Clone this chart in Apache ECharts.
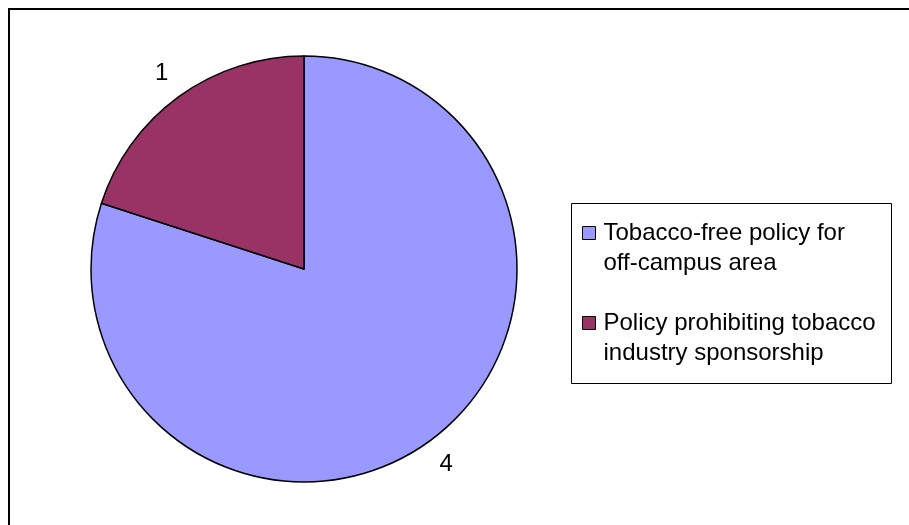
<!DOCTYPE html>
<html>
<head>
<meta charset="utf-8">
<script src="https://cdn.jsdelivr.net/npm/echarts@6/dist/echarts.min.js"></script>
<style>
  html, body { margin: 0; padding: 0; background: #fff; }
  #chart { width: 909px; height: 525px; }
</style>
</head>
<body>
<div id="chart"></div>
<script>
// Policy categories and their counts
const categories = [
  'Tobacco-free policy for off-campus area',
  'Policy prohibiting tobacco industry sponsorship'
];
const legendLines = [
  ['Tobacco-free policy for', 'off-campus area'],
  ['Policy prohibiting tobacco', 'industry sponsorship']
];
const counts = [4, 1];
const sliceColors = ['#9999FF', '#993366'];

const chart = echarts.init(document.getElementById('chart'), null, { renderer: 'canvas' });

const fontFamily = '"Liberation Sans", Arial, sans-serif';

chart.setOption({
  backgroundColor: '#ffffff',
  animation: false,
  graphic: [
    {
      // outer chart frame
      type: 'rect',
      shape: { x: 9, y: 9, width: 910, height: 520 },
      style: { fill: 'none', stroke: '#000', lineWidth: 2 },
      z: 10
    },
    {
      // legend frame
      type: 'rect',
      shape: { x: 571.5, y: 203.5, width: 320, height: 180 },
      style: { fill: '#fff', stroke: '#000', lineWidth: 1 },
      z: 0
    }
  ],
  legend: {
    orient: 'vertical',
    left: 582,
    top: 188,
    padding: 0,
    itemGap: 0,
    itemWidth: 13,
    itemHeight: 13,
    icon: 'rect',
    itemStyle: { borderColor: '#000', borderWidth: 1 },
    z: 5,
    // a blank leading line keeps the swatch level with the first text line
    formatter: function (name) {
      const i = categories.indexOf(name);
      return '\n' + legendLines[i].join('\n');
    },
    textStyle: {
      fontFamily: fontFamily,
      fontSize: 24,
      lineHeight: 30,
      color: '#000',
      padding: [0, 0, 0, 3]
    },
    data: categories
  },
  series: [
    {
      type: 'pie',
      center: [304, 269],
      radius: 213,
      startAngle: 90,
      clockwise: true,
      avoidLabelOverlap: false,
      itemStyle: { borderColor: '#000', borderWidth: 1.5 },
      label: {
        show: true,
        position: 'outside',
        formatter: '{c}',
        fontFamily: fontFamily,
        fontSize: 24,
        color: '#000'
      },
      labelLine: {
        show: true,
        length: 29,
        length2: 0,
        lineStyle: { opacity: 0 }
      },
      // centre each value label on the end of its (hidden) guide line
      labelLayout: function (p) {
        const pts = p.labelLinePoints;
        if (!pts) return {};
        const end = pts[1];
        return { x: end[0], y: end[1], align: 'center', verticalAlign: 'middle' };
      },
      emphasis: { disabled: true },
      data: categories.map(function (name, i) {
        return { name: name, value: counts[i], itemStyle: { color: sliceColors[i] } };
      })
    }
  ]
});
</script>
</body>
</html>
